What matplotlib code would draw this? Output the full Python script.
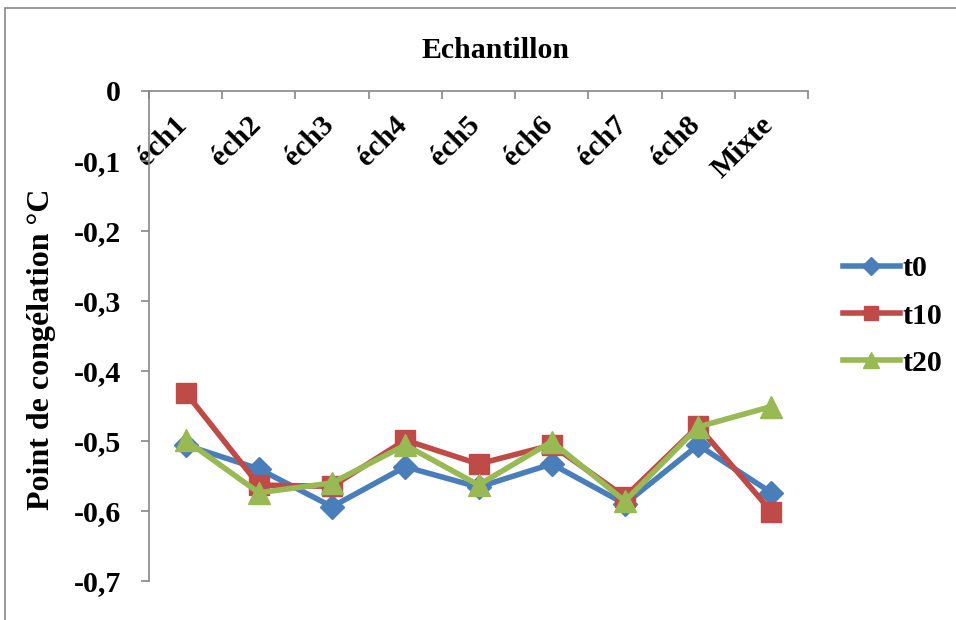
import numpy as np
import matplotlib
matplotlib.use('Agg')
import matplotlib.pyplot as plt
from matplotlib.patches import Rectangle
from matplotlib.ticker import FixedLocator
import matplotlib.transforms as mtransforms

plt.rcParams['font.family'] = ['Liberation Serif', 'DejaVu Serif']
plt.rcParams['font.weight'] = 'bold'

echantillons = ['éch1', 'éch2', 'éch3', 'éch4', 'éch5', 'éch6', 'éch7', 'éch8', 'Mixte']
t0 = [-0.506, -0.540, -0.594, -0.537, -0.566, -0.533, -0.590, -0.506, -0.574]
t10 = [-0.431, -0.563, -0.565, -0.499, -0.533, -0.506, -0.580, -0.479, -0.601]
t20 = [-0.499, -0.574, -0.560, -0.506, -0.563, -0.501, -0.586, -0.480, -0.451]
y_ticks = [0, -0.1, -0.2, -0.3, -0.4, -0.5, -0.6, -0.7]
y_labels = ['0', '-0,1', '-0,2', '-0,3', '-0,4', '-0,5', '-0,6', '-0,7']

fs = 21.5
gris = '#868686'

fig = plt.figure(figsize=(9.56, 6.2), dpi=100)
ax = fig.add_axes([149 / 956, 1 - 581 / 620, 659 / 956, 490.5 / 620])

x = np.arange(len(echantillons))
ax.plot(x, t0, color='#4A7EBB', lw=4, marker='D', ms=12, label='t0')
ax.plot(x, t10, color='#BE4B48', lw=4, marker='s', ms=14, label='t10')
ax.plot(x, t20, color='#98B954', lw=4, marker='^', ms=16, label='t20')

ax.set_xlim(-0.5, len(echantillons) - 0.5)
ax.set_ylim(-0.7, 0)

# axe des catégories en haut (croise à 0), étiquettes en dessous
for s in ['top', 'right']:
    ax.spines[s].set_visible(False)
ax.spines['bottom'].set_position(('data', 0))
for s in ['bottom', 'left']:
    ax.spines[s].set_color(gris)
    ax.spines[s].set_linewidth(1.2)

ax.set_xticks(x)
ax.set_xticklabels(echantillons, rotation=45, ha='right', va='top', fontsize=fs)
ax.xaxis.set_minor_locator(FixedLocator(np.arange(-0.5, len(echantillons), 1)))
ax.tick_params(axis='x', which='major', length=0, pad=15)
ax.tick_params(axis='x', which='minor', length=6, width=1.2, color=gris, direction='out')
decal = mtransforms.ScaledTranslation(7 / 100, 0, fig.dpi_scale_trans)
for lab in ax.get_xticklabels():
    lab.set_transform(lab.get_transform() + decal)

ax.set_yticks(y_ticks)
ax.set_yticklabels(y_labels, fontsize=fs)
ax.tick_params(axis='y', length=6, width=1.2, color=gris, pad=14)

fig.text(496 / 956, 1 - 50 / 620, 'Echantillon', ha='center', va='center', fontsize=fs)
fig.text(42 / 956, 1 - 349 / 620, 'Point de congélation °C', ha='center', va='center',
         rotation=90, fontsize=23)

fig.legend(loc='center left', bbox_to_anchor=(843 / 956, 1 - 316 / 620), frameon=False,
           fontsize=fs, handlelength=1.9, handletextpad=0.1, labelspacing=0.68,
           borderpad=0, borderaxespad=0, markerscale=0.75)

# cadre gris du graphique
fig.add_artist(Rectangle((5 / 956, -0.1), 1.2, 1 - 8 / 620 + 0.1, transform=fig.transFigure,
                         fill=False, edgecolor=gris, lw=1.2))

fig.savefig('out.png', dpi=100)
